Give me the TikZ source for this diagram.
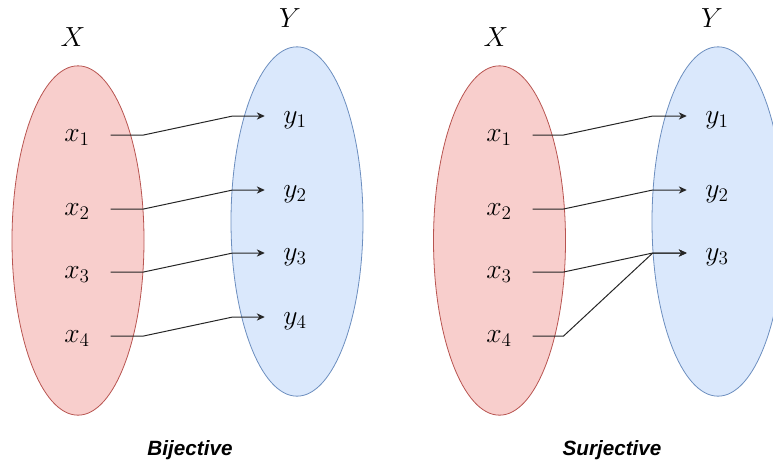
\documentclass[tikz,border=0pt]{standalone}
\usepackage{fontspec}
\setsansfont{Liberation Sans}
\usepackage{tikz}
\usetikzlibrary{shapes.geometric,arrows.meta,calc}
\definecolor{setred}{HTML}{F8CECC}
\definecolor{setredline}{HTML}{B85450}
\definecolor{setblue}{HTML}{DAE8FC}
\definecolor{setblueline}{HTML}{6C8EBF}

\begin{document}
\begin{tikzpicture}[
    x=0.75pt, y=-0.75pt,
    redset/.style={ellipse, draw=setredline, fill=setred, minimum width=99pt, minimum height=262pt, line width=0.6pt},
    blueset/.style={ellipse, draw=setblueline, fill=setblue, minimum width=99pt, minimum height=262pt, line width=0.6pt},
    setname/.style={font=\fontsize{21}{23}\selectfont, inner sep=0pt},
    xelem/.style={font=\fontsize{19.5}{21}\selectfont, minimum width=50pt, inner sep=0pt, text height=13pt, text depth=3pt},
    yelem/.style={font=\fontsize{19.5}{21}\selectfont, minimum width=45pt, inner sep=0pt, text height=14.5pt, text depth=3pt},
    caption/.style={font=\sffamily\bfseries\itshape\fontsize{15.5}{18}\selectfont},
    map/.style={-{Stealth[length=6pt, width=5.5pt]}, line width=0.75pt, black!85}
]
\useasboundingbox (0,0) rectangle (773,464);

% Bijective
\node[redset] (X1) at (78,240.5) {};
\node[blueset] (Y1) at (297,221.5) {};
\node[setname] (lx1) at (73,37) {$X$};
\node[setname] (ly1) at (290,18) {$Y$};
\node[xelem] (a1) at (77,135) {$x_1$};
\node[xelem] (a2) at (77,209) {$x_2$};
\node[xelem] (a3) at (77,272) {$x_3$};
\node[xelem] (a4) at (77,336) {$x_4$};
\node[yelem] (b1) at (295,116) {$y_1$};
\node[yelem] (b2) at (295,190) {$y_2$};
\node[yelem] (b3) at (295,253) {$y_3$};
\node[yelem] (b4) at (295,317) {$y_4$};
\foreach \i in {1,...,4}
    \draw[map] (a\i.east) -- ++(33,0) -- ($(b\i.west)+(-32,0)$) -- (b\i.west);
\node[caption] (cap1) at (190,450) {Bijective};

% Surjective
\node[redset] (X2) at (499.5,240.5) {};
\node[blueset] (Y2) at (718,221.5) {};
\node[setname] (lx2) at (496,37) {$X$};
\node[setname] (ly2) at (712,18) {$Y$};
\node[xelem] (c1) at (499,135) {$x_1$};
\node[xelem] (c2) at (499,209) {$x_2$};
\node[xelem] (c3) at (499,272) {$x_3$};
\node[xelem] (c4) at (499,336) {$x_4$};
\node[yelem] (d1) at (717,116) {$y_1$};
\node[yelem] (d2) at (717,190) {$y_2$};
\node[yelem] (d3) at (717,253) {$y_3$};
\foreach \i/\j in {1/1,2/2,3/3,4/3}
    \draw[map] (c\i.east) -- ++(31,0) -- ($(d\j.west)+(-34,0)$) -- (d\j.west);
\node[caption] (cap2) at (612,450) {Surjective};
\end{tikzpicture}
\end{document}
